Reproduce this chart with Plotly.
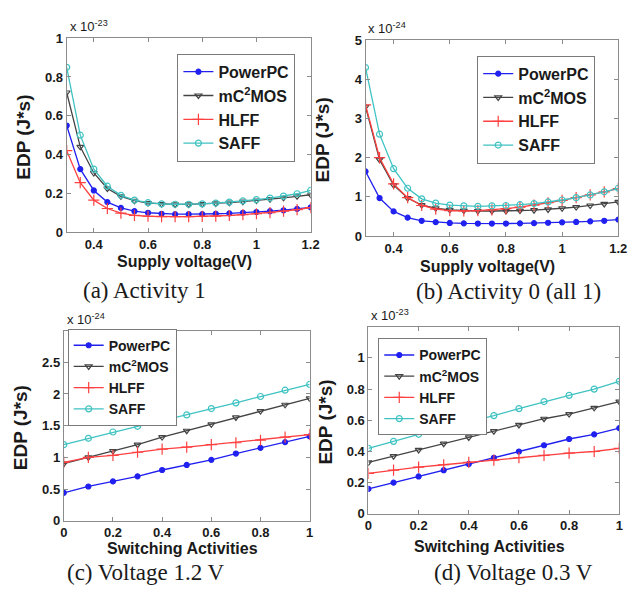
import plotly.graph_objects as go

W, H = 641, 594

# Supply-voltage sweep (V) for panels (a) and (b)
vdd = [0.30, 0.35, 0.40, 0.45, 0.50, 0.55, 0.60, 0.65, 0.70, 0.75,
       0.80, 0.85, 0.90, 0.95, 1.00, 1.05, 1.10, 1.15, 1.20]
# Switching-activity sweep for panels (c) and (d)
activity = [0.0, 0.1, 0.2, 0.3, 0.4, 0.5, 0.6, 0.7, 0.8, 0.9, 1.0]

series_names = ["PowerPC", "mC<sup>2</sup>MOS", "HLFF", "SAFF"]

# (a) Activity 1, EDP in units of 1e-23 J*s
a_powerpc = [0.55, 0.325, 0.215, 0.155, 0.125, 0.108, 0.100, 0.095, 0.093, 0.093,
             0.093, 0.095, 0.097, 0.100, 0.104, 0.108, 0.113, 0.120, 0.128]
a_mc2mos = [0.72, 0.44, 0.305, 0.225, 0.185, 0.162, 0.150, 0.145, 0.143, 0.143,
            0.145, 0.148, 0.152, 0.157, 0.163, 0.170, 0.177, 0.185, 0.193]
a_hlff = [0.42, 0.255, 0.165, 0.122, 0.098, 0.087, 0.082, 0.080, 0.080, 0.080,
          0.081, 0.083, 0.086, 0.090, 0.095, 0.101, 0.108, 0.116, 0.127]
a_saff = [0.85, 0.50, 0.325, 0.237, 0.190, 0.165, 0.152, 0.146, 0.144, 0.144,
          0.146, 0.150, 0.155, 0.161, 0.168, 0.176, 0.186, 0.198, 0.215]

# (b) Activity 0 (all 1), EDP in units of 1e-24 J*s
b_powerpc = [1.65, 0.97, 0.63, 0.47, 0.39, 0.355, 0.335, 0.325, 0.32, 0.32,
             0.32, 0.325, 0.33, 0.34, 0.35, 0.36, 0.375, 0.39, 0.42]
b_mc2mos = [3.3, 1.95, 1.3, 0.97, 0.79, 0.71, 0.67, 0.65, 0.64, 0.64,
            0.64, 0.65, 0.66, 0.68, 0.71, 0.74, 0.78, 0.82, 0.87]
b_hlff = [3.35, 2.0, 1.33, 0.98, 0.78, 0.69, 0.65, 0.64, 0.65, 0.67,
          0.70, 0.74, 0.79, 0.85, 0.91, 0.98, 1.05, 1.13, 1.21]
b_saff = [4.3, 2.6, 1.72, 1.22, 0.95, 0.84, 0.79, 0.77, 0.76, 0.77,
          0.78, 0.80, 0.83, 0.87, 0.92, 0.98, 1.05, 1.13, 1.22]

# (c) Voltage 1.2 V, EDP in units of 1e-24 J*s
c_powerpc = [0.44, 0.54, 0.62, 0.70, 0.80, 0.88, 0.96, 1.06, 1.15, 1.24, 1.33]
c_mc2mos = [0.90, 1.00, 1.10, 1.20, 1.32, 1.42, 1.52, 1.63, 1.73, 1.83, 1.93]
c_hlff = [0.92, 1.00, 1.03, 1.08, 1.13, 1.16, 1.20, 1.23, 1.27, 1.32, 1.36]
c_saff = [1.20, 1.30, 1.40, 1.49, 1.58, 1.67, 1.77, 1.86, 1.96, 2.06, 2.15]

# (d) Voltage 0.3 V, EDP in units of 1e-23 J*s
d_powerpc = [0.16, 0.20, 0.24, 0.28, 0.32, 0.36, 0.40, 0.44, 0.48, 0.51, 0.55]
d_mc2mos = [0.33, 0.37, 0.41, 0.45, 0.49, 0.53, 0.57, 0.61, 0.64, 0.68, 0.72]
d_hlff = [0.26, 0.28, 0.30, 0.315, 0.33, 0.345, 0.36, 0.375, 0.39, 0.40, 0.42]
d_saff = [0.42, 0.465, 0.51, 0.55, 0.59, 0.63, 0.675, 0.72, 0.76, 0.80, 0.85]

# Line / marker style per design
styles = [
    dict(color="#2020f0", symbol="circle", size=5),
    dict(color="#444444", symbol="triangle-down-open", size=6),
    dict(color="#ff4040", symbol="cross-thin-open", size=8),
    dict(color="#3fc2c2", symbol="circle-open", size=6),
]


def fx(px):
    return px / W


def fy(py):
    return 1 - py / H


# Panel geometry (pixels) and axis setup
panels = [
    dict(x=vdd, ys=[a_powerpc, a_mc2mos, a_hlff, a_saff], box=(64, 313, 32, 231),
         xr=[0.3, 1.2], xt=[0.4, 0.6, 0.8, 1.0, 1.2], xtt=["0.4", "0.6", "0.8", "1", "1.2"],
         yr=[0, 1], yt=[0, 0.2, 0.4, 0.6, 0.8, 1.0], ytt=["0", "0.2", "0.4", "0.6", "0.8", "1"],
         exp="-23", legend=(177, 48, 16), xtitle=(261, "Supply voltage(V)"),
         caption=(143, 291, "(a) Activity 1")),
    dict(x=vdd, ys=[b_powerpc, b_mc2mos, b_hlff, b_saff], box=(369, 627, 34, 235),
         xr=[0.3, 1.2], xt=[0.4, 0.6, 0.8, 1.0, 1.2], xtt=["0.4", "0.6", "0.8", "1", "1.2"],
         yr=[0, 5], yt=[0, 1, 2, 3, 4, 5], ytt=["0", "1", "2", "3", "4", "5"],
         exp="-24", legend=(483, 50, 16), xtitle=(266, "Supply voltage(V)"),
         caption=(515, 292, "(b) Activity 0 (all 1)")),
    dict(x=activity, ys=[c_powerpc, c_mc2mos, c_hlff, c_saff], box=(61, 312, 332, 527),
         xr=[0, 1], xt=[0, 0.2, 0.4, 0.6, 0.8, 1.0], xtt=["0", "0.2", "0.4", "0.6", "0.8", "1"],
         yr=[0, 3], yt=[0, 0.5, 1, 1.5, 2, 2.5], ytt=["0", "0.5", "1", "1.5", "2", "2.5"],
         exp="-24", legend=(65, 330, 14), xtitle=(556, "Switching Activities"),
         caption=(145, 580, "(c) Voltage 1.2 V")),
    dict(x=activity, ys=[d_powerpc, d_mc2mos, d_hlff, d_saff], box=(372, 628, 328, 520),
         xr=[0, 1], xt=[0, 0.2, 0.4, 0.6, 0.8, 1.0], xtt=["0", "0.2", "0.4", "0.6", "0.8", "1"],
         yr=[0, 1.2], yt=[0, 0.2, 0.4, 0.6, 0.8, 1.0], ytt=["0", "0.2", "0.4", "0.6", "0.8", "1"],
         exp="-23", legend=(382, 340, 14), xtitle=(553, "Switching Activities"),
         caption=(520, 580, "(d) Voltage 0.3 V")),
]

AX_COLOR = "#8c8c8c"
SANS = "Liberation Sans"
SERIF = "Liberation Serif"
INK = "#1a1a1a"

fig = go.Figure()
layout = dict(
    width=W, height=H,
    margin=dict(l=0, r=0, t=0, b=0),
    paper_bgcolor="white", plot_bgcolor="white",
    showlegend=True,
    annotations=[],
)

for i, p in enumerate(panels):
    n = "" if i == 0 else str(i + 1)
    lg = "legend" + n
    x0, x1, y0, y1 = p["box"]
    for name, ys, st in zip(series_names, p["ys"], styles):
        fig.add_trace(go.Scatter(
            x=p["x"], y=ys, name=name, mode="lines+markers",
            xaxis="x" + n, yaxis="y" + n, legend=lg,
            line=dict(color=st["color"], width=1.3),
            marker=dict(symbol=st["symbol"], size=st["size"], color=st["color"],
                        line=dict(color=st["color"], width=1.2)),
        ))
    tickfont = dict(family=SANS, size=13, color=INK, weight="bold")
    common = dict(showline=True, linecolor=AX_COLOR, linewidth=1, mirror="ticks",
                  ticks="inside", ticklen=4, tickcolor=AX_COLOR, showgrid=False,
                  zeroline=False, tickfont=tickfont)
    layout["xaxis" + n] = dict(common, domain=[fx(x0), fx(x1)], range=p["xr"],
                               tickvals=p["xt"], ticktext=p["xtt"],
                               anchor="y" + n, ticklabelstandoff=0)
    layout["yaxis" + n] = dict(common, domain=[fy(y1), fy(y0)], range=p["yr"],
                               tickvals=p["yt"], ticktext=p["ytt"],
                               anchor="x" + n, ticklabelstandoff=0)
    lx, ly, lsize = p["legend"]
    layout[lg] = dict(x=fx(lx), y=fy(ly), xanchor="left", yanchor="top",
                      bgcolor="white", bordercolor="#7a7a7a", borderwidth=1,
                      font=dict(family=SANS, size=lsize, color=INK, weight="bold"),
                      itemwidth=30, tracegroupgap=0)
    ann = layout["annotations"]
    # exponent label above the axes
    ann.append(dict(text="x 10<sup>" + p["exp"] + "</sup>", xref="paper", yref="paper",
                    x=fx(x0 + 1), y=fy(y0 - 2), xanchor="left", yanchor="bottom",
                    showarrow=False, font=dict(family=SANS, size=13, color=INK)))
    # axis titles
    ty, ttext = p["xtitle"]
    ann.append(dict(text=ttext, xref="paper", yref="paper",
                    x=fx((x0 + x1) / 2 - 4), y=fy(ty), xanchor="center", yanchor="middle",
                    showarrow=False,
                    font=dict(family=SANS, size=16, color=INK, weight="bold")))
    ann.append(dict(text="EDP (J*s)", xref="paper", yref="paper", textangle=-90,
                    x=fx(x0 - 44), y=fy((y0 + y1) / 2 + 2), xanchor="center", yanchor="middle",
                    showarrow=False,
                    font=dict(family=SANS, size=19, color=INK, weight="bold")))
    # caption under each panel
    cx, cy, ctext = p["caption"]
    ann.append(dict(text=ctext, xref="paper", yref="paper",
                    x=fx(cx), y=fy(cy), xanchor="center", yanchor="middle",
                    showarrow=False, font=dict(family=SERIF, size=23, color=INK)))

fig.update_layout(**layout)
fig.write_html("out.html")
